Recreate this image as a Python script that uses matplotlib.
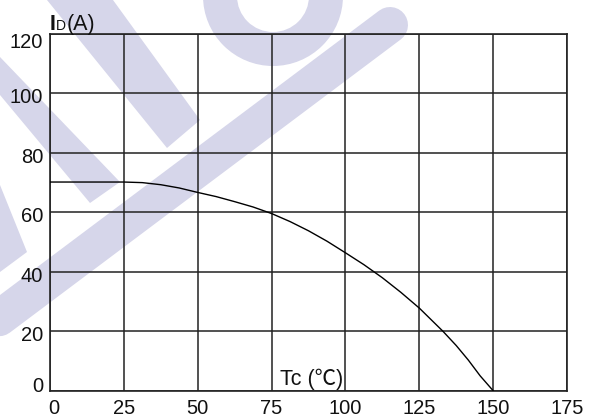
import matplotlib
matplotlib.use("Agg")
import matplotlib.pyplot as plt
from matplotlib.patches import Polygon, Wedge
from matplotlib.transforms import Affine2D, ScaledTranslation
from matplotlib.lines import Line2D

# ---- data ----
tc = [0, 25, 31.25, 37.5, 43.75, 50, 56.25, 62.5, 68.75, 75, 81.25, 87.5,
      93.75, 100, 106.25, 112.5, 118.75, 125, 133, 137.5, 141.6, 145.6, 150]
id_a = [70.2, 70.2, 70.0, 69.3, 68.2, 66.7, 65.3, 63.6, 61.8, 59.6, 56.9, 53.8,
        50.3, 46.4, 42.4, 38.0, 33.1, 27.8, 20.0, 15.2, 10.3, 5.0, 0]
x_ticks = [0, 25, 50, 75, 100, 125, 150, 175]
y_ticks = [0, 20, 40, 60, 80, 100, 120]

W, H = 595, 417
fig = plt.figure(figsize=(W / 100, H / 100), dpi=100)
fig.patch.set_facecolor("white")

# pixel transform (y down) for watermark decoration
px = Affine2D().scale(1 / W, -1 / H).translate(0, 1) + fig.transFigure
wm = "#d6d6ea"

def poly(pts):
    fig.patches.append(Polygon(pts, closed=True, transform=px, facecolor=wm,
                               edgecolor="none", zorder=0))

poly([(47, 0), (113, 0), (200, 120), (167, 148)])
poly([(0, 57), (0, 95), (90, 203), (120, 182)])
poly([(0, 185), (27, 252), (0, 272)])
fig.patches.append(Wedge((273, -4), 70, 0, 180, width=34, transform=px,
                         facecolor=wm, edgecolor="none", zorder=0))
fig.lines.append(Line2D([-30, 390], [340, 25], transform=px, color=wm,
                        linewidth=36 * 0.72, solid_capstyle="round", zorder=0))

ax = fig.add_axes([50 / W, 1 - 390.7 / H, 517 / W, 356.7 / H])
ax.set_facecolor("none")
ax.set_zorder(2)

ax.plot(tc, id_a, color="black", linewidth=1.0, zorder=3)

ax.set_xlim(0, 175)
ax.set_ylim(0, 120)
ax.set_xticks(x_ticks)
ax.set_yticks(y_ticks)
ax.set_xticklabels([str(v) for v in x_ticks])
ax.set_yticklabels([str(v) for v in y_ticks])
ax.tick_params(length=0, labelsize=14.5, colors="#111111")
ax.tick_params(axis="x", pad=6)
ax.tick_params(axis="y", pad=4.8)
for lab in ax.get_xticklabels() + ax.get_yticklabels():
    lab.set_family("Liberation Sans")

ax.grid(True, color="#222222", linewidth=1.1)
for s in ax.spines.values():
    s.set_color("#222222")
    s.set_linewidth(1.2)

# small tick label nudges (in pixels)
def nudge(lab, dx, dy):
    lab.set_transform(lab.get_transform() +
                      ScaledTranslation(dx / 100, -dy / 100, fig.dpi_scale_trans))

ylabs = ax.get_yticklabels()
for lab in ylabs:
    nudge(lab, 0, 2.5)
nudge(ylabs[-1], 0, 4.5)
nudge(ylabs[0], 0, -8.5)
nudge(ax.get_xticklabels()[0], 4, 0)

# axis titles
fig.text(50, 30, "I", transform=px, fontsize=15.5, fontweight="bold",
         family="Liberation Sans", color="#111111", va="baseline")
fig.text(56, 29.5, "D", transform=px, fontsize=10,
         family="Liberation Sans", color="#111111", va="baseline")
fig.text(66.5, 30, "(A)", transform=px, fontsize=15.5,
         family="Liberation Sans", color="#111111", va="baseline")

ax.text(0.445, 0.016, "Tc (℃)", transform=ax.transAxes, fontsize=15.5,
        family=["Liberation Sans", "Noto Sans CJK SC"], color="#111111",
        va="baseline", ha="left", zorder=4)

fig.savefig("out.png", dpi=100)
